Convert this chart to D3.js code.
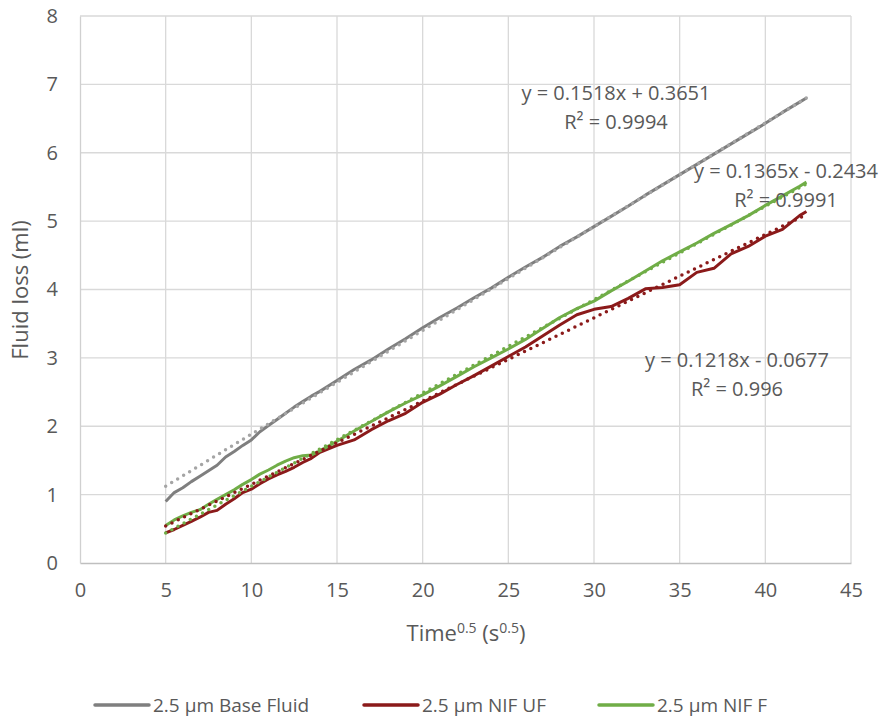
<!DOCTYPE html>
<html>
<head>
<meta charset="utf-8">
<script src="https://cdn.jsdelivr.net/npm/d3@7"></script>
<style>
  body { margin: 0; background: #fff; }
  text { font-family: "Open Sans", "Noto Sans", sans-serif; fill: #595959; }
</style>
</head>
<body>
<svg id="chart" width="887" height="717"></svg>
<script>
// sqrt(time) values shared by the three series
var timeSqrt = [5, 5.5, 6, 6.5, 7, 7.5, 8, 8.5, 9, 9.5, 10, 10.5, 11, 11.5, 12, 12.5, 13, 13.5, 14,
  15, 16, 17, 18, 19, 20, 21, 22, 23, 24, 25, 26, 27, 28, 29, 30, 31, 32, 33, 34, 35, 36, 37, 38, 39, 40, 41, 42, 42.4]

var baseFluid = [0.90, 1.03, 1.10, 1.19, 1.27, 1.35, 1.43, 1.55, 1.63, 1.72, 1.80, 1.92, 2.01, 2.10, 2.19, 2.28, 2.36, 2.44, 2.51,
  2.67, 2.83, 2.97, 3.13, 3.28, 3.44, 3.59, 3.73, 3.88, 4.02, 4.18, 4.33, 4.47, 4.63, 4.77, 4.92, 5.07, 5.22, 5.38, 5.53, 5.68,
  5.83, 5.98, 6.13, 6.28, 6.43, 6.59, 6.74, 6.80]

var nifUF = [0.44, 0.49, 0.55, 0.61, 0.67, 0.74, 0.77, 0.86, 0.94, 1.03, 1.08, 1.16, 1.23, 1.29, 1.34, 1.40, 1.47, 1.53, 1.62,
  1.72, 1.80, 1.95, 2.08, 2.19, 2.35, 2.47, 2.61, 2.74, 2.88, 3.02, 3.16, 3.32, 3.48, 3.63, 3.71, 3.75, 3.87, 4.01, 4.03, 4.07,
  4.25, 4.31, 4.52, 4.63, 4.78, 4.88, 5.08, 5.14]

var nifF = [0.55, 0.63, 0.69, 0.74, 0.78, 0.86, 0.93, 1.00, 1.07, 1.15, 1.22, 1.30, 1.36, 1.43, 1.49, 1.54, 1.57, 1.58, 1.64,
  1.78, 1.93, 2.07, 2.21, 2.34, 2.46, 2.59, 2.73, 2.87, 3.00, 3.13, 3.27, 3.43, 3.59, 3.72, 3.83, 3.98, 4.12, 4.27, 4.42, 4.55,
  4.68, 4.82, 4.95, 5.08, 5.23, 5.37, 5.51, 5.57]

var seriesNames = ['2.5 µm Base Fluid', '2.5 µm NIF UF', '2.5 µm NIF F']
var seriesColors = ['#7f7f7f', '#8b1a1a', '#70ad47']
var trendColors = ['#a5a5a5', '#8b1a1a', '#70ad47']
// linear trendline coefficients as printed on the chart
var trendSlope = [0.1518, 0.1218, 0.1365]
var trendIntercept = [0.3651, -0.0677, -0.2434]
var trendLabels = [
  ['y = 0.1518x + 0.3651', 'R² = 0.9994'],
  ['y = 0.1218x - 0.0677', 'R² = 0.996'],
  ['y = 0.1365x - 0.2434', 'R² = 0.9991']
]
var xTicks = [0, 5, 10, 15, 20, 25, 30, 35, 40, 45]
var yTicks = [0, 1, 2, 3, 4, 5, 6, 7, 8]

var margin = {top: 16, left: 80, right: 36, bottom: 154}
var width = 887 - margin.left - margin.right,
    height = 717 - margin.top - margin.bottom

var svg = d3.select('#chart')
var g = svg.append('g').attr('transform', 'translate(' + margin.left + ',' + margin.top + ')')

var x = d3.scaleLinear().domain([0, 45]).range([0, width])
var y = d3.scaleLinear().domain([0, 8]).range([height, 0])

// gridlines
g.append('g').selectAll('line').data(xTicks.slice(1)).enter().append('line')
  .attr('x1', d => x(d)).attr('x2', d => x(d))
  .attr('y1', 0).attr('y2', height)
  .attr('stroke', '#d9d9d9').attr('stroke-width', 1.3)
g.append('g').selectAll('line').data(yTicks.slice(1)).enter().append('line')
  .attr('x1', 0).attr('x2', width)
  .attr('y1', d => y(d)).attr('y2', d => y(d))
  .attr('stroke', '#d9d9d9').attr('stroke-width', 1.3)

// axes
var xAxis = g.append('g').attr('transform', 'translate(0,' + height + ')')
  .call(d3.axisBottom(x).tickValues(xTicks).tickSize(0).tickPadding(20))
var yAxis = g.append('g')
  .call(d3.axisLeft(y).tickValues(yTicks).tickSize(0).tickPadding(22))
xAxis.select('.domain').attr('stroke', '#bfbfbf').attr('stroke-width', 1.5)
yAxis.select('.domain').attr('stroke', '#d0d0d0').attr('stroke-width', 1.3)
xAxis.selectAll('text').style('font-size', '20px').attr('fill', '#595959').attr('font-family', null)
yAxis.selectAll('text').style('font-size', '20px').attr('fill', '#595959').attr('font-family', null)

// data lines
var line = d3.line().x(d => x(d[0])).y(d => y(d[1]))
var allSeries = [baseFluid, nifUF, nifF]

allSeries.forEach(function(vals, i) {
  var pts = timeSqrt.map((t, k) => [t, vals[k]])
  g.append('path').datum(pts)
    .attr('d', line)
    .attr('fill', 'none')
    .attr('stroke', seriesColors[i])
    .attr('stroke-width', 3)
    .attr('stroke-linejoin', 'round')
})

// dotted trendlines over the data range
allSeries.forEach(function(vals, i) {
  var x0 = timeSqrt[0], x1 = timeSqrt[timeSqrt.length - 1]
  var pts = [[x0, trendSlope[i] * x0 + trendIntercept[i]], [x1, trendSlope[i] * x1 + trendIntercept[i]]]
  g.append('path').datum(pts)
    .attr('d', line)
    .attr('fill', 'none')
    .attr('stroke', trendColors[i])
    .attr('stroke-width', 3.5)
    .attr('stroke-linecap', 'round')
    .attr('stroke-dasharray', '0 7')
})

// trendline equations
var labelPos = [[616, 100], [737, 367], [786, 178]]
trendLabels.forEach(function(lbl, i) {
  var t = svg.append('text')
    .attr('text-anchor', 'middle')
    .style('font-size', '20px')
  t.append('tspan').attr('x', labelPos[i][0]).attr('y', labelPos[i][1]).text(lbl[0])
  t.append('tspan').attr('x', labelPos[i][0]).attr('dy', 29).text(lbl[1])
})

// axis titles
svg.append('text')
  .attr('transform', 'translate(28,290) rotate(-90)')
  .attr('text-anchor', 'middle')
  .style('font-size', '22px')
  .text('Fluid loss (ml)')

var xt = svg.append('text')
  .attr('x', 466).attr('y', 641)
  .attr('text-anchor', 'middle')
  .style('font-size', '22px')
xt.append('tspan').text('Time')
xt.append('tspan').attr('dy', -8).style('font-size', '14px').text('0.5')
xt.append('tspan').attr('dy', 8).text(' (s')
xt.append('tspan').attr('dy', -8).style('font-size', '14px').text('0.5')
xt.append('tspan').attr('dy', 8).text(')')

// legend
var legendX = [95, 364, 599]
var legend = svg.append('g')
seriesNames.forEach(function(name, i) {
  legend.append('line')
    .attr('x1', legendX[i]).attr('x2', legendX[i] + 54)
    .attr('y1', 705).attr('y2', 705)
    .attr('stroke', seriesColors[i]).attr('stroke-width', 3.5)
    .attr('stroke-linecap', 'round')
  legend.append('text')
    .attr('x', legendX[i] + 58).attr('y', 712)
    .style('font-size', '19px')
    .text(name)
})
</script>
</body>
</html>
